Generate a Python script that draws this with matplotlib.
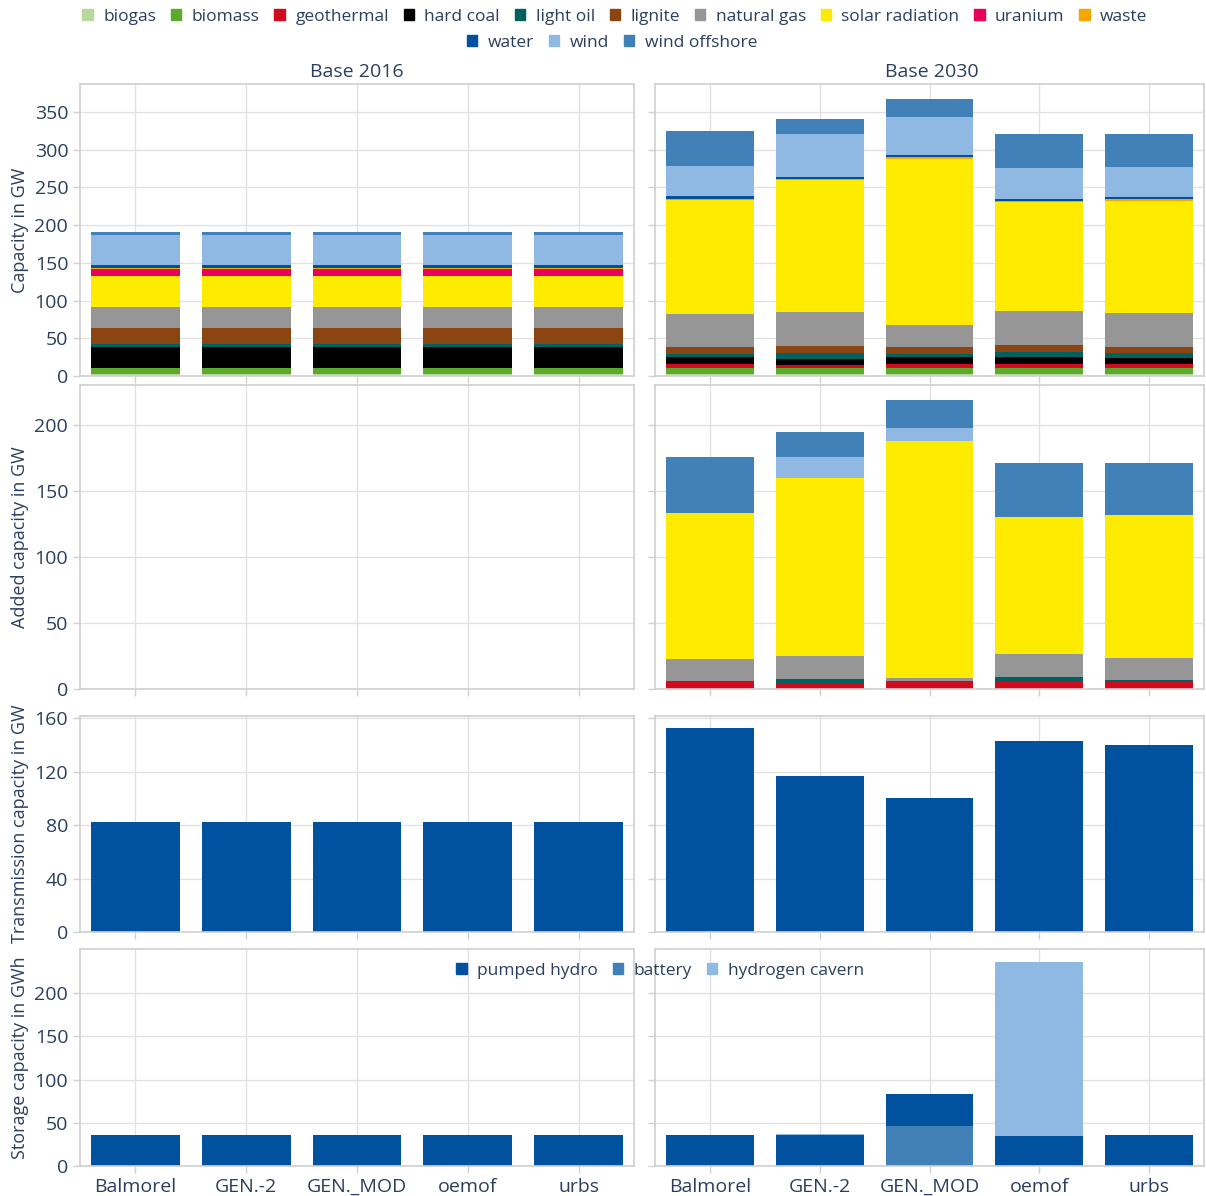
import numpy as np
import matplotlib
matplotlib.use('Agg')
import matplotlib.pyplot as plt
from matplotlib.patches import Patch

plt.rcParams['font.family'] = ['Open Sans', 'DejaVu Sans']

# models on x axis
models = ['Balmorel', 'GEN.-2', 'GEN._MOD', 'oemof', 'urbs']

# technologies, stacking order bottom -> top
techs = ['biogas', 'biomass', 'geothermal', 'hard coal', 'light oil', 'lignite',
         'natural gas', 'solar radiation', 'uranium', 'waste', 'water', 'wind',
         'wind offshore']
tech_colors = ['#b8d89e', '#5aab2a', '#d20a1e', '#000000', '#00625f', '#8b4513',
               '#969696', '#ffeb00', '#e8005a', '#f5a700', '#00529f', '#8fb9e3',
               '#4280b8']

# installed capacity in GW (same for every model in 2016)
cap_2016 = [3, 8, 0, 28, 4, 20, 28, 41, 9.3, 1.3, 4, 40, 4]
cap_2030_balmorel = [2.7, 8, 5.3, 9.3, 4, 9.3, 44, 151, 0, 1.3, 3, 40, 46.6]
cap_2030_gen2 = [2.7, 8, 4, 8, 8, 9.3, 45, 175, 0, 1.3, 3, 56, 20]
cap_2030_genmod = [2.7, 8, 5.3, 9.3, 4, 9.3, 29.3, 219.6, 0, 2.7, 2.7, 50.6, 24]
cap_2030_oemof = [2.7, 8, 5.3, 9.3, 6.7, 9.3, 45, 144, 0, 1.3, 3.5, 40, 45]
cap_2030_urbs = [2.7, 8, 5.3, 8, 6.7, 8, 45, 148, 0, 2.7, 2.7, 39.5, 44]

# added capacity in GW (nothing added in 2016)
add_2030_balmorel = [0, 0, 6.1, 0, 0, 0, 16.7, 110, 0, 0, 0, 0, 42.6]
add_2030_gen2 = [0, 0, 3.8, 0, 3.8, 0, 17.5, 134.6, 0, 0, 0, 16, 19]
add_2030_genmod = [0, 0, 6.1, 0, 0, 0, 2.3, 179.5, 0, 0, 0, 9.9, 20.5]
add_2030_oemof = [0, 0, 6.1, 0, 3, 0, 17.5, 103.4, 0, 0, 0, 0, 41]
add_2030_urbs = [0, 0, 6.1, 0, 0.8, 0, 16.7, 108, 0, 0, 0, 0, 39.5]

# transmission capacity in GW
trans_2016 = [82, 82, 82, 82, 82]
trans_2030 = [152.6, 117, 100, 143, 140]

# storage capacity in GWh
pumped_2016 = [36, 36, 36, 36, 36]
pumped_2030 = [36, 36, 37, 35, 36]
battery_2030 = [0, 0, 46.5, 0, 0]
hydrogen_2030 = [0, 1.2, 0, 201, 0]

storage_colors = {'pumped hydro': '#00529f', 'battery': '#4280b8',
                  'hydrogen cavern': '#8fb9e3'}

text_color = '#2a3f5f'
grid_color = '#e1e1e1'
line_color = '#d0d0d0'
W, H = 1206, 1196

fig = plt.figure(figsize=(W / 100, H / 100), dpi=100)

cols = [(80, 634), (655, 1204)]
rows = [(84, 376), (385, 689), (716, 932), (949, 1166)]
ylims = [387, 230, 161.5, 251]
yticks = [np.arange(0, 351, 50), np.arange(0, 201, 50), np.arange(0, 161, 40),
          np.arange(0, 201, 50)]
ylabels = ['Capacity in GW', 'Added capacity in GW', 'Transmission capacity in GW',
           'Storage capacity in GWh']

axes = []
for r, (top, bot) in enumerate(rows):
    row_axes = []
    for c, (left, right) in enumerate(cols):
        ax = fig.add_axes([left / W, 1 - bot / H, (right - left) / W, (bot - top) / H])
        ax.set_xlim(-0.5, 4.5)
        ax.set_ylim(0, ylims[r])
        ax.set_yticks(yticks[r])
        ax.set_xticks(range(5))
        ax.grid(True, color=grid_color, lw=1)
        ax.set_axisbelow(True)
        for s in ax.spines.values():
            s.set_color(line_color)
            s.set_linewidth(1.2)
        ax.tick_params(colors=line_color, labelcolor=text_color, labelsize=14,
                       length=5, width=1)
        if r == 3:
            ax.set_xticklabels(models)
        else:
            ax.set_xticklabels([])
        if c == 1:
            ax.set_yticklabels([])
        else:
            ax.set_ylabel(ylabels[r], color=text_color, fontsize=13)
            ax.yaxis.set_label_coords(-(left - 29) / (right - left), 0.5)
        row_axes.append(ax)
    axes.append(row_axes)

x = np.arange(len(models))
bw = 0.8


def stack(ax, per_model):
    data = np.array(per_model).T  # techs x models
    bottom = np.zeros(len(models))
    for i, t in enumerate(techs):
        ax.bar(x, data[i], bw, bottom=bottom, color=tech_colors[i], lw=0)
        bottom += data[i]


# row 1: capacity
stack(axes[0][0], [cap_2016] * 5)
stack(axes[0][1], [cap_2030_balmorel, cap_2030_gen2, cap_2030_genmod,
                   cap_2030_oemof, cap_2030_urbs])
# row 2: added capacity
stack(axes[1][1], [add_2030_balmorel, add_2030_gen2, add_2030_genmod,
                   add_2030_oemof, add_2030_urbs])
# row 3: transmission
axes[2][0].bar(x, trans_2016, bw, color='#00529f', lw=0)
axes[2][1].bar(x, trans_2030, bw, color='#00529f', lw=0)
# row 4: storage
axes[3][0].bar(x, pumped_2016, bw, color=storage_colors['pumped hydro'], lw=0)
ax = axes[3][1]
b = np.zeros(5)
ax.bar(x, battery_2030, bw, bottom=b, color=storage_colors['battery'], lw=0)
b += battery_2030
ax.bar(x, pumped_2030, bw, bottom=b, color=storage_colors['pumped hydro'], lw=0)
b += pumped_2030
ax.bar(x, hydrogen_2030, bw, bottom=b, color=storage_colors['hydrogen cavern'], lw=0)

# column titles
fig.text(357 / W, 1 - 72 / H, 'Base 2016', ha='center', va='center',
         color=text_color, fontsize=14)
fig.text(932 / W, 1 - 72 / H, 'Base 2030', ha='center', va='center',
         color=text_color, fontsize=14)

# top legend
handles = [Patch(color=c, label=t) for t, c in zip(techs, tech_colors)]
leg_kw = dict(frameon=False, handlelength=0.6, handleheight=0.6, handletextpad=0.6,
              columnspacing=0.85, labelcolor=text_color, fontsize=12.5, borderpad=0)
fig.legend(handles=handles[:10], loc='center', bbox_to_anchor=(615 / W, 1 - 17 / H),
           ncol=10, **leg_kw)
fig.legend(handles=handles[10:], loc='center', bbox_to_anchor=(612 / W, 1 - 43 / H),
           ncol=3, **leg_kw)

# storage legend
s_handles = [Patch(color=c, label=t) for t, c in storage_colors.items()]
fig.legend(handles=s_handles, loc='center', bbox_to_anchor=(660 / W, 1 - 971 / H),
           ncol=3, **leg_kw)

fig.savefig('out.png', dpi=100)
